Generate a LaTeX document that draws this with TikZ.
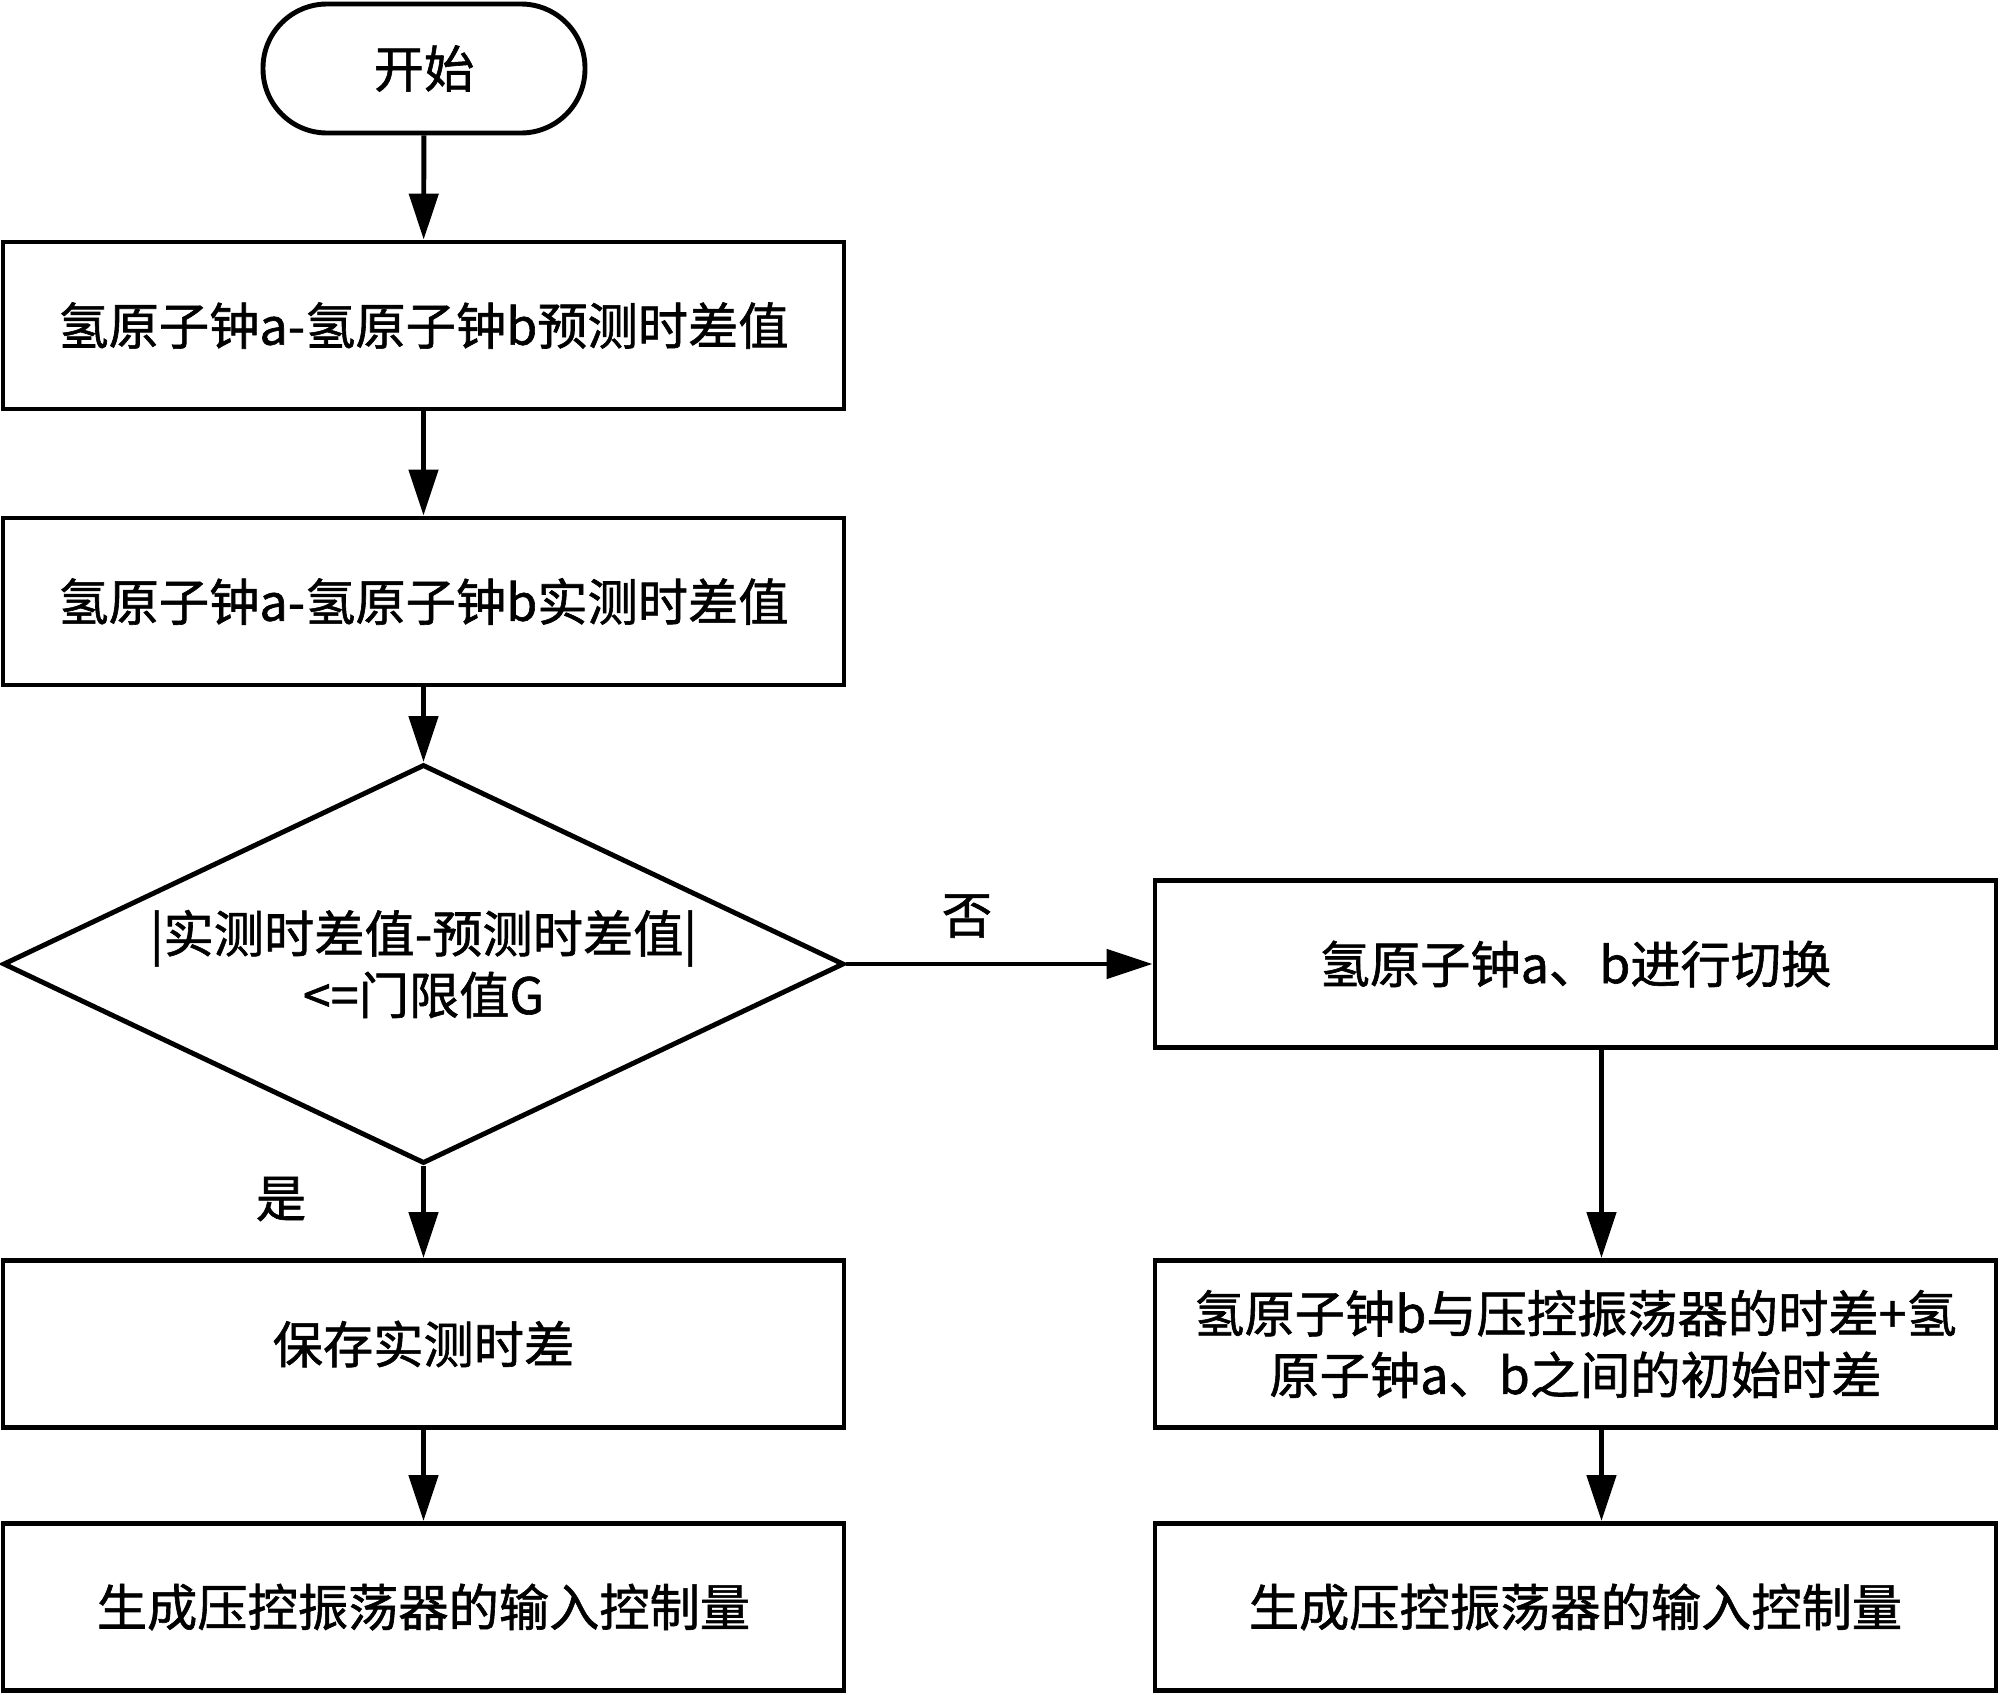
\documentclass[tikz,border=0pt]{standalone}
\usepackage{fontspec}
\usepackage{tikz}
\usetikzlibrary{arrows.meta,positioning,shapes.geometric}
\newfontfamily\cjk[FakeBold=1.2]{Noto Sans CJK SC}

\begin{document}
\begin{tikzpicture}
        \tikzset{
            every node/.style={font=\cjk\fontsize{14.3}{17.5}\selectfont},
            stepbox/.style={draw, line width=1.4pt, minimum width=8.41cm, minimum height=1.67cm, align=center, inner sep=0pt},
            startbox/.style={draw, line width=1.4pt, rounded corners=6.4mm, minimum width=3.22cm, minimum height=1.29cm},
            check/.style={draw, line width=1.4pt, shape=diamond, aspect=2.1, minimum width=8.41cm, minimum height=3.99cm, inner sep=0pt, align=center},
            flow/.style={line width=1.4pt, -{Triangle[length=4.6mm,width=2.9mm]}}
        }
        \useasboundingbox (0,0) rectangle (20,-16.94);
        % left column
        \node[startbox] (start) at (4.24,-0.685) {开始};
        \node[stepbox] (pred) at (4.235,-3.255) {氢原子钟a-氢原子钟b预测时差值};
        \node[stepbox] (meas) at (4.235,-6.015) {氢原子钟a-氢原子钟b实测时差值};
        \node[check] (cmp) at (4.235,-9.64) {|实测时差值-预测时差值|\\<=门限值G};
        \node[stepbox] (save) at (4.235,-13.44) {保存实测时差};
        \node[stepbox] (outl) at (4.235,-16.07) {生成压控振荡器的输入控制量};
        % right column
        \node[stepbox] (swap) at (15.755,-9.64) {氢原子钟a、b进行切换};
        \node[stepbox] (sum) at (15.755,-13.44) {氢原子钟b与压控振荡器的时差+氢\\原子钟a、b之间的初始时差};
        \node[stepbox] (outr) at (15.755,-16.07) {生成压控振荡器的输入控制量};
        % labels
        \node (no) at (9.67,-9.16) {否};
        \node (yes) at (2.81,-11.99) {是};
        \draw[flow] (start) -- (pred);
        \draw[flow] (pred) -- (meas);
        \draw[flow] (meas) -- (cmp);
        \draw[flow] (cmp) -- (save);
        \draw[flow] (save) -- (outl);
        \draw[flow] (cmp.east) -- (swap.west);
        \draw[flow] ([xshift=2.6mm]swap.south) -- ([xshift=2.6mm]sum.north);
        \draw[flow] ([xshift=2.6mm]sum.south) -- ([xshift=2.6mm]outr.north);
\end{tikzpicture}
\end{document}
